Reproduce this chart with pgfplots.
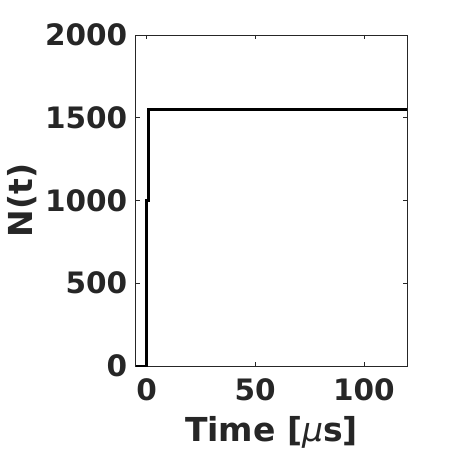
\documentclass[border=0pt]{standalone}
\usepackage{fontspec}
\setmainfont{DejaVu Sans}
\usepackage{pgfplots}
\pgfplotsset{compat=1.18}
\definecolor{axgray}{HTML}{262626}
\begin{document}
\begin{tikzpicture}
  \useasboundingbox (-135.7pt,-84pt) rectangle (314.3pt,366pt);
  \begin{axis}[
      at={(0,0)}, anchor=south west,
      scale only axis,
      width=271.6pt, height=331pt,
      xmin=-5, xmax=120,
      ymin=0, ymax=2000,
      xtick={0,50,100},
      ytick={0,500,1000,1500,2000},
      tick align=inside,
      tick pos=both,
      major tick length=4pt,
      axis line style={axgray, line width=0.6pt},
      tick style={axgray, line width=0.6pt},
      every tick label/.append style={font=\fontsize{29.5}{32}\selectfont\bfseries, text=axgray},
      /pgf/number format/assume math mode=true,
      /pgf/number format/1000 sep={},
      yticklabel style={xshift=-5pt},
      xticklabel style={yshift=-9pt},
      xlabel={Time [{\mdseries\itshape μ}s]},
      ylabel={N(t)},
      label style={font=\fontsize{33}{36}\selectfont\bfseries, text=axgray},
      xlabel style={yshift=-9pt},
      ylabel style={yshift=1pt},
    ]
    \addplot[black, line width=2.8pt] coordinates {
      (-5,0) (0,0) (0,1000) (0.75,1000) (0.75,1550) (120,1550)
    };
  \end{axis}
\end{tikzpicture}
\end{document}
